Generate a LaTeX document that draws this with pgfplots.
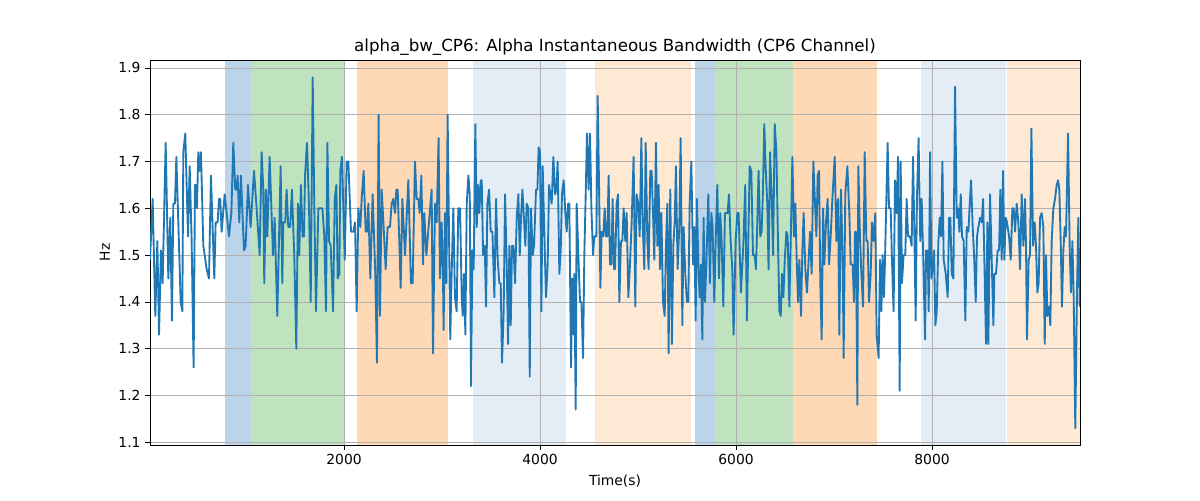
\documentclass[border=0pt]{standalone}
\usepackage{pgfplots}
\pgfplotsset{compat=1.18}
\usepackage{fontspec}
\setmainfont{DejaVu Sans}
\definecolor{tabblue}{RGB}{31,119,180}
\definecolor{spanblue}{RGB}{187,212,233}
\definecolor{spangreen}{RGB}{191,227,191}
\definecolor{spanorange}{RGB}{255,216,182}
\definecolor{spanlblue}{RGB}{228,237,246}
\definecolor{spanlorange}{RGB}{254,233,213}
\definecolor{gridgray}{RGB}{176,176,176}
\begin{document}
\begin{tikzpicture}[x=1pt,y=1pt]
\begin{axis}[
  set layers=standard,
  at={(0,0)}, anchor=south west,
  scale only axis, width=697.5pt, height=288.75pt,
  xmin=20, xmax=9510, ymin=1.0942, ymax=1.917,
  xtick={2000,4000,6000,8000},
  ytick={1.1,1.2,1.3,1.4,1.5,1.6,1.7,1.8,1.9},
  /pgf/number format/assume math mode=true,
  /pgf/number format/1000 sep={},
  yticklabel style={/pgf/number format/fixed,/pgf/number format/fixed zerofill,/pgf/number format/precision=1},
  tick label style={font=\fontsize{10.4}{12}\selectfont},
  tick align=outside, tick pos=left,
  major tick length=3.6pt,
  every tick/.style={black, line width=0.6pt},
  grid=major,
  major grid style={gridgray, line width=0.6pt},
  axis line style={black, line width=0.6pt},
  title={alpha\_bw\_CP6: Alpha Instantaneous Bandwidth (CP6 Channel)},
  title style={font=\fontsize{12.5}{15}\selectfont, yshift=-6pt},
  xlabel={Time(s)}, ylabel={Hz},
  label style={font=\fontsize{10.4}{12}\selectfont},
  xlabel style={yshift=-0.75pt},
  ylabel style={yshift=-0.5pt},
]
% shaded spans
\addplot[on layer=axis background, fill=spanblue, draw=spanblue] coordinates {(786,1.0942) (786,1.917) (1051,1.917) (1051,1.0942)};
\addplot[on layer=axis background, fill=spangreen, draw=spangreen] coordinates {(1051,1.0942) (1051,1.917) (2000,1.917) (2000,1.0942)};
\addplot[on layer=axis background, fill=spanorange, draw=spanorange] coordinates {(2133,1.0942) (2133,1.917) (3051,1.917) (3051,1.0942)};
\addplot[on layer=axis background, fill=spanlblue, draw=spanlblue] coordinates {(3316,1.0942) (3316,1.917) (4255,1.917) (4255,1.0942)};
\addplot[on layer=axis background, fill=spanlorange, draw=spanlorange] coordinates {(4561,1.0942) (4561,1.917) (5531,1.917) (5531,1.0942)};
\addplot[on layer=axis background, fill=spanblue, draw=spanblue] coordinates {(5582,1.0942) (5582,1.917) (5786,1.917) (5786,1.0942)};
\addplot[on layer=axis background, fill=spangreen, draw=spangreen] coordinates {(5786,1.0942) (5786,1.917) (6571,1.917) (6571,1.0942)};
\addplot[on layer=axis background, fill=spanorange, draw=spanorange] coordinates {(6582,1.0942) (6582,1.917) (7429,1.917) (7429,1.0942)};
\addplot[on layer=axis background, fill=spanlblue, draw=spanlblue] coordinates {(7888,1.0942) (7888,1.917) (8745,1.917) (8745,1.0942)};
\addplot[on layer=axis background, fill=spanlorange, draw=none] coordinates {(8765,1.0942) (8765,1.917) (9510,1.917) (9510,1.0942)};
% signal
\addplot[tabblue, line width=1.4pt, line join=round] coordinates {
(20,1.49)(47,1.62)(74,1.37)(95,1.53)(112,1.33)(132,1.51)(149,1.44)(156,1.51)(180,1.74)(207,1.45)
(227,1.58)(244,1.36)(258,1.61)(275,1.61)(289,1.71)(309,1.57)(333,1.40)(350,1.38)(360,1.72)(380,1.76)
(408,1.54)(425,1.69)(445,1.53)(465,1.26)(479,1.65)(489,1.65)(499,1.60)(513,1.72)(527,1.68)(540,1.72)
(564,1.52)(598,1.47)(622,1.45)(642,1.67)(676,1.45)(690,1.57)(710,1.57)(724,1.62)(737,1.62)(751,1.55)
(782,1.63)(802,1.59)(826,1.54)(850,1.59)(870,1.74)(890,1.64)(904,1.64)(914,1.67)(931,1.57)(948,1.67)
(979,1.51)(996,1.52)(1020,1.65)(1047,1.56)(1081,1.68)(1108,1.60)(1139,1.50)(1159,1.72)(1176,1.64)(1186,1.44)
(1203,1.64)(1217,1.54)(1241,1.71)(1275,1.50)(1292,1.58)(1319,1.37)(1353,1.69)(1370,1.44)(1380,1.57)(1400,1.57)
(1414,1.64)(1431,1.56)(1451,1.56)(1468,1.64)(1492,1.50)(1513,1.30)(1530,1.61)(1543,1.50)(1560,1.65)(1577,1.54)
(1591,1.54)
(1602,1.67)(1622,1.74)(1643,1.60)(1660,1.40)(1680,1.88)(1697,1.60)(1714,1.38)(1738,1.60)(1755,1.60)(1779,1.60)
(1799,1.54)(1816,1.38)(1830,1.74)(1847,1.53)(1864,1.52)(1888,1.38)(1905,1.62)(1922,1.65)(1935,1.45)(1952,1.46)
(1962,1.68)(1979,1.71)(2007,1.49)(2027,1.70)(2044,1.70)(2071,1.55)(2095,1.55)(2112,1.57)(2129,1.38)(2146,1.60)
(2166,1.56)(2180,1.62)(2200,1.68)(2221,1.55)(2234,1.55)(2248,1.61)(2268,1.45)(2292,1.63)(2319,1.46)(2336,1.27)
(2353,1.80)(2367,1.37)(2384,1.64)(2404,1.56)(2425,1.47)(2445,1.56)(2469,1.56)(2486,1.61)(2503,1.62)(2520,1.59)
(2534,1.64)(2547,1.64)(2564,1.53)(2578,1.43)(2595,1.62)(2622,1.50)(2656,1.66)(2683,1.44)(2700,1.44)(2724,1.70)
(2741,1.62)(2758,1.62)(2772,1.59)(2789,1.67)(2806,1.48)(2819,1.59)(2840,1.50)(2863,1.56)(2894,1.64)(2908,1.29)
(2928,1.61)(2945,1.57)(2965,1.75)(2979,1.45)(2996,1.57)(3010,1.45)(3016,1.34)(3030,1.59)(3044,1.44)(3057,1.80)
(3084,1.32)(3098,1.46)(3115,1.60)(3132,1.41)(3149,1.38)(3166,1.60)
(3184,1.60)(3201,1.41)(3211,1.37)(3225,1.46)(3238,1.33)(3252,1.61)(3269,1.67)(3283,1.63)(3296,1.22)(3310,1.51)
(3323,1.47)(3340,1.78)(3354,1.56)(3368,1.65)(3381,1.59)(3395,1.66)(3405,1.66)(3419,1.50)(3436,1.52)(3449,1.39)
(3463,1.61)(3480,1.64)(3497,1.55)(3514,1.55)(3534,1.41)(3551,1.62)(3568,1.49)(3585,1.44)(3599,1.44)(3612,1.27)
(3629,1.38)(3643,1.63)(3660,1.48)(3674,1.31)(3687,1.52)(3701,1.35)(3714,1.52)(3728,1.52)(3745,1.44)(3762,1.58)
(3779,1.63)(3793,1.50)(3806,1.58)(3820,1.64)(3833,1.59)(3850,1.52)(3864,1.61)(3881,1.60)(3895,1.24)(3908,1.60)
(3925,1.50)(3939,1.52)(3959,1.64)(3973,1.64)(3986,1.73)(4000,1.72)(4014,1.38)(4027,1.69)(4041,1.57)(4061,1.41)
(4078,1.48)(4092,1.65)(4105,1.63)(4119,1.61)(4136,1.71)(4153,1.63)(4167,1.64)(4180,1.70)(4197,1.46)(4211,1.51)
(4224,1.63)(4241,1.66)(4258,1.59)(4272,1.55)(4286,1.61)(4299,1.61)(4316,1.26)(4330,1.45)(4343,1.33)(4350,1.46)
(4364,1.17)(4374,1.61)(4391,1.50)(4408,1.40)(4422,1.40)(4439,1.28)(4452,1.50)(4466,1.63)(4479,1.76)(4496,1.64)
(4510,1.76)(4524,1.60)(4541,1.50)(4554,1.54)(4575,1.54)(4588,1.84)(4602,1.65)(4616,1.43)(4629,1.55)(4646,1.54)
(4660,1.60)(4673,1.54)(4687,1.54)(4700,1.67)(4714,1.48)(4728,1.48)(4741,1.62)(4755,1.47)
(4765,1.47)(4782,1.61)(4796,1.63)(4809,1.40)(4826,1.53)(4840,1.53)(4853,1.60)(4870,1.53)(4884,1.59)(4901,1.41)
(4918,1.48)(4935,1.57)(4955,1.71)(4972,1.39)(4986,1.63)(5003,1.61)(5017,1.54)(5034,1.75)(5047,1.57)(5064,1.47)
(5078,1.74)(5095,1.53)(5108,1.47)(5125,1.68)(5139,1.68)(5153,1.59)(5166,1.49)(5183,1.74)(5197,1.52)(5210,1.65)
(5224,1.47)(5238,1.59)(5255,1.40)(5272,1.37)(5285,1.52)(5299,1.61)(5312,1.29)(5329,1.64)(5346,1.31)(5360,1.52)
(5374,1.57)(5387,1.69)(5404,1.47)(5421,1.56)(5435,1.75)(5452,1.35)(5465,1.56)(5482,1.46)(5499,1.40)(5513,1.40)
(5527,1.61)(5544,1.70)(5561,1.48)(5574,1.56)(5588,1.36)(5601,1.62)(5615,1.48)(5629,1.41)(5642,1.48)(5656,1.32)
(5669,1.58)(5683,1.40)(5697,1.48)(5717,1.63)(5734,1.44)(5748,1.59)(5761,1.56)(5778,1.40)(5792,1.53)(5809,1.65)
(5826,1.45)(5839,1.59)(5853,1.53)(5870,1.39)(5887,1.59)(5901,1.59)(5914,1.59)(5928,1.63)(5945,1.53)(5962,1.47)
(5975,1.33)(5996,1.53)(6013,1.59)(6026,1.59)(6050,1.42)(6074,1.52)(6094,1.65)(6111,1.36)(6125,1.53)(6139,1.69)
(6156,1.68)(6173,1.50)(6190,1.50)(6203,1.47)(6217,1.57)(6230,1.68)(6247,1.54)(6261,1.55)(6275,1.64)(6288,1.78)
(6302,1.69)(6319,1.61)(6332,1.47)
(6347,1.72)(6364,1.62)(6378,1.50)(6395,1.78)(6412,1.72)(6429,1.52)(6442,1.38)(6456,1.37)(6469,1.46)(6483,1.41)
(6497,1.49)(6514,1.55)(6527,1.54)(6544,1.39)(6561,1.56)(6575,1.71)(6592,1.54)(6605,1.61)(6619,1.49)(6633,1.40)
(6646,1.49)(6663,1.37)(6677,1.51)(6690,1.59)(6707,1.47)(6724,1.42)(6741,1.49)(6755,1.55)(6772,1.46)(6789,1.70)
(6806,1.61)(6820,1.54)(6833,1.67)(6847,1.68)(6860,1.44)(6874,1.32)(6888,1.60)(6901,1.48)(6918,1.57)(6935,1.62)
(6949,1.48)(6966,1.54)(6983,1.62)(7007,1.71)(7024,1.53)(7041,1.62)(7054,1.33)(7071,1.64)(7088,1.49)(7098,1.28)
(7115,1.63)(7136,1.69)(7156,1.59)(7170,1.48)(7190,1.48)(7204,1.40)(7214,1.55)(7224,1.55)(7238,1.18)(7248,1.69)
(7265,1.54)(7279,1.46)(7296,1.39)(7313,1.72)(7330,1.53)(7343,1.53)(7357,1.40)(7374,1.46)(7387,1.57)(7404,1.53)
(7421,1.59)(7435,1.33)(7455,1.28)(7469,1.49)(7483,1.38)(7496,1.50)(7510,1.41)(7520,1.49)(7534,1.62)(7547,1.74)
(7561,1.60)(7578,1.60)(7591,1.49)(7608,1.38)(7622,1.66)(7639,1.59)(7653,1.71)(7670,1.21)(7680,1.70)(7693,1.44)
(7710,1.50)(7727,1.50)(7741,1.62)(7755,1.54)(7775,1.54)(7792,1.52)(7806,1.71)(7819,1.56)(7833,1.36)(7846,1.62)
(7863,1.75)(7880,1.53)(7894,1.62)(7911,1.49)
(7929,1.32)(7939,1.51)(7956,1.51)(7966,1.38)(7980,1.72)(7994,1.45)(8007,1.47)(8021,1.51)(8034,1.35)(8048,1.38)
(8065,1.53)(8079,1.58)(8092,1.54)(8106,1.70)(8119,1.49)(8140,1.46)(8160,1.41)(8174,1.58)(8187,1.58)(8201,1.46)
(8218,1.45)(8235,1.86)(8252,1.58)(8266,1.60)(8279,1.55)(8293,1.63)(8306,1.54)(8323,1.53)(8340,1.36)(8354,1.56)
(8371,1.55)(8385,1.61)(8398,1.66)(8415,1.56)(8429,1.50)(8446,1.40)(8459,1.54)(8473,1.56)(8490,1.58)(8507,1.57)
(8521,1.62)(8534,1.49)(8551,1.31)(8565,1.57)(8575,1.31)(8592,1.63)(8609,1.49)(8626,1.35)(8636,1.46)(8653,1.46)
(8670,1.51)(8684,1.51)(8697,1.64)(8711,1.49)(8725,1.68)(8738,1.49)(8752,1.58)(8765,1.57)(8786,1.54)(8803,1.49)
(8820,1.60)(8833,1.60)(8847,1.55)(8864,1.61)(8881,1.57)(8898,1.47)(8915,1.63)(8932,1.52)(8949,1.62)(8959,1.52)
(8969,1.32)(8986,1.49)(9000,1.50)(9014,1.77)(9031,1.52)(9048,1.57)(9061,1.52)(9075,1.42)(9088,1.44)(9102,1.58)
(9119,1.59)(9136,1.56)(9150,1.31)(9163,1.50)(9177,1.37)(9194,1.39)(9207,1.35)(9221,1.53)(9238,1.60)(9255,1.62)
(9272,1.65)(9286,1.66)(9299,1.64)(9313,1.53)(9326,1.39)(9340,1.51)(9354,1.56)(9367,1.54)(9388,1.76)(9405,1.51)
(9418,1.42)(9432,1.53)(9445,1.42)(9462,1.13)(9479,1.42)(9493,1.58)(9507,1.39)
};
\end{axis}
\pgfresetboundingbox
\useasboundingbox (-112.5,-41.25) rectangle (787.5,333.75);
\end{tikzpicture}
\end{document}
